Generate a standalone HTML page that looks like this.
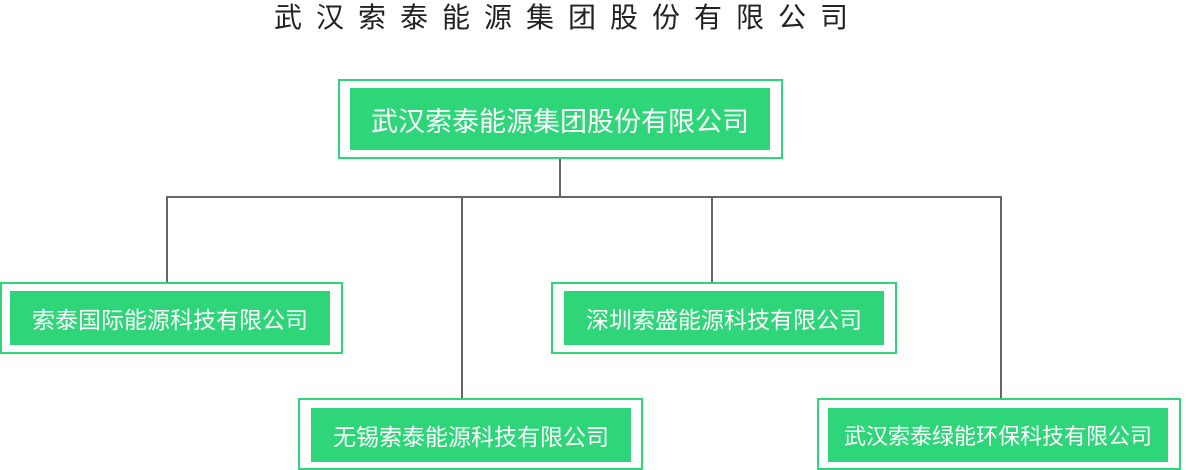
<!DOCTYPE html>
<html><head><meta charset="utf-8"><style>
body{margin:0;width:1189px;height:470px;background:#fff;position:relative;overflow:hidden;font-family:"Liberation Sans","Noto Sans CJK SC",sans-serif}
.t{position:absolute;left:274px;top:1px;font-size:28px;letter-spacing:14px;color:#222;white-space:nowrap;line-height:34px}
.o{position:absolute;border:2px solid #2ed679;box-sizing:border-box}
.i{position:absolute;background:#2ed679;color:#fff;display:flex;align-items:center;justify-content:center;white-space:nowrap}
.l{position:absolute;background:#666}
</style></head><body>
<div class="t">武汉索泰能源集团股份有限公司</div>
<div class="l" style="left:559px;top:158px;width:2px;height:39px"></div>
<div class="l" style="left:166px;top:196px;width:836px;height:2px"></div>
<div class="l" style="left:166px;top:196px;width:2px;height:86px"></div>
<div class="l" style="left:461px;top:196px;width:2px;height:202px"></div>
<div class="l" style="left:711px;top:196px;width:2px;height:86px"></div>
<div class="l" style="left:1000px;top:196px;width:2px;height:202px"></div>

<div class="o" style="left:338px;top:79px;width:445px;height:80px"></div>
<div class="i" style="left:350px;top:88px;width:420px;height:62px;font-size:27px">武汉索泰能源集团股份有限公司</div>

<div class="o" style="left:0;top:282px;width:343px;height:72px"></div>
<div class="i" style="left:10px;top:291px;width:320px;height:54px;font-size:23px">索泰国际能源科技有限公司</div>

<div class="o" style="left:551px;top:282px;width:346px;height:72px"></div>
<div class="i" style="left:564px;top:291px;width:320px;height:54px;font-size:23px">深圳索盛能源科技有限公司</div>

<div class="o" style="left:298px;top:398px;width:345px;height:72px"></div>
<div class="i" style="left:311px;top:408px;width:320px;height:54px;font-size:23px">无锡索泰能源科技有限公司</div>

<div class="o" style="left:817px;top:398px;width:364px;height:72px"></div>
<div class="i" style="left:828px;top:408px;width:340px;height:54px;font-size:22px">武汉索泰绿能环保科技有限公司</div>
</body></html>
